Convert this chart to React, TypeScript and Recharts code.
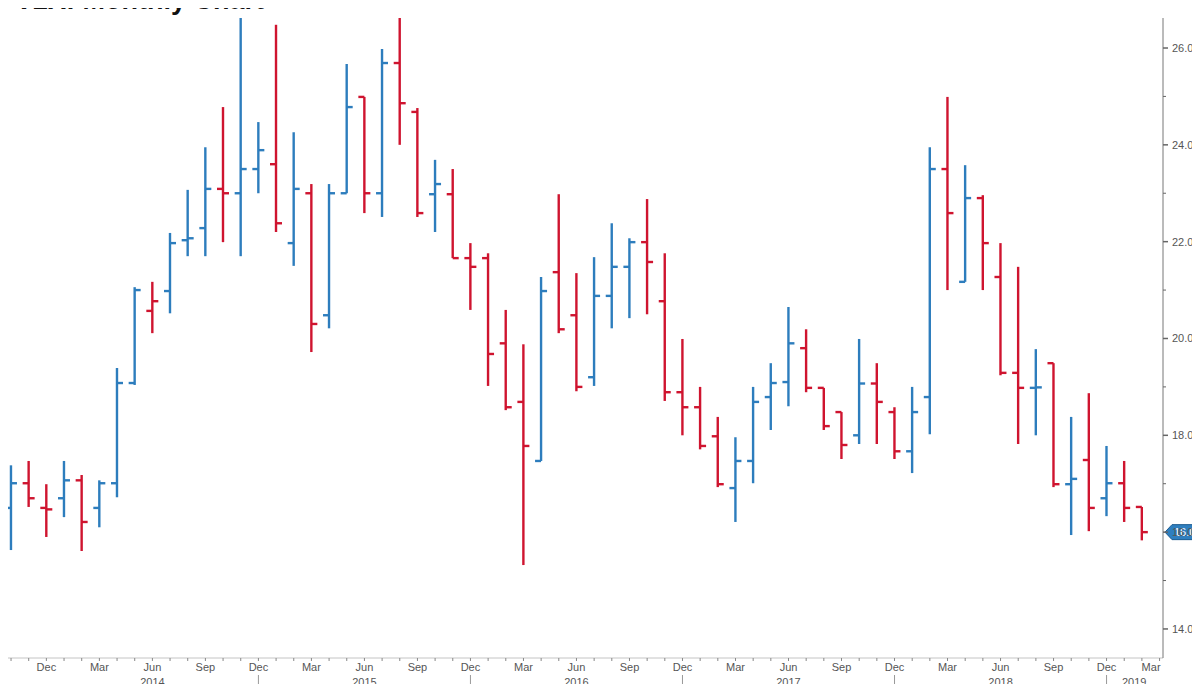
import React from 'react';
import { ComposedChart, Bar, XAxis, YAxis, ReferenceLine } from 'recharts';

// ---------- data ----------
const MONTH_NAMES = ['Jan', 'Feb', 'Mar', 'Apr', 'May', 'Jun', 'Jul', 'Aug', 'Sep', 'Oct', 'Nov', 'Dec'];
const START_YEAR = 2013;
const START_MONTH = 9; // Oct 2013
const CATEGORY_COUNT = 66; // Oct 2013 .. Mar 2019

const opens = [
  16.50, 17.01, 16.50, 16.70, 17.07, 16.50, 17.01, 19.08, 20.57, 20.98,
  22.03, 22.28, 23.09, 23.00, 23.50, 23.60, 21.97, 23.00, 20.48, 23.00,
  24.99, 23.00, 25.69, 24.68, 22.98, 22.98, 21.66, 21.66, 19.90, 18.69,
  17.47, 21.37, 20.48, 19.20, 20.88, 21.48, 21.99, 20.77, 18.89, 18.58,
  17.98, 16.91, 17.47, 18.79, 19.10, 19.80, 18.98, 18.48, 18.00, 19.07,
  18.48, 17.67, 18.79, 23.50, 21.17, 22.90, 21.27, 19.29, 18.98, 19.49,
  16.99, 17.49, 16.70, 17.01, 16.52,
];
const highs = [
  17.38, 17.47, 16.99, 17.47, 17.18, 17.07, 19.39, 21.06, 21.17, 22.18,
  23.07, 23.95, 24.78, 26.90, 24.47, 26.48, 24.26, 23.19, 23.19, 25.67,
  24.99, 25.98, 26.90, 24.76, 23.69, 23.50, 21.97, 21.76, 20.59, 19.88,
  21.27, 22.98, 21.35, 21.68, 22.38, 22.07, 22.88, 21.76, 19.99, 19.00,
  18.38, 17.96, 19.00, 19.49, 20.65, 20.19, 18.98, 18.48, 19.99, 19.49,
  18.58, 19.00, 23.95, 24.99, 23.58, 22.96, 21.97, 21.48, 19.78, 19.49,
  18.38, 18.87, 17.78, 17.47, 16.52,
];
const lows = [
  15.63, 16.52, 15.90, 16.31, 15.61, 16.10, 16.72, 19.04, 20.11, 20.52,
  21.70, 21.70, 21.99, 21.70, 23.00, 22.20, 21.50, 19.72, 20.21, 23.00,
  22.59, 22.51, 24.00, 22.51, 22.20, 21.66, 20.59, 19.02, 18.52, 15.32,
  17.47, 20.11, 18.91, 19.02, 20.21, 20.42, 20.50, 18.71, 18.00, 17.71,
  16.93, 16.21, 17.01, 18.11, 18.60, 18.89, 18.11, 17.51, 17.82, 17.82,
  17.51, 17.22, 18.02, 21.00, 21.17, 21.00, 19.24, 17.82, 18.00, 16.93,
  15.94, 16.02, 16.33, 16.21, 15.83,
];
const closes = [
  17.01, 16.70, 16.47, 17.07, 16.21, 17.01, 19.08, 21.00, 20.77, 21.97,
  22.07, 23.09, 23.00, 23.50, 23.89, 22.38, 23.09, 20.30, 23.00, 24.78,
  23.00, 25.69, 24.86, 22.59, 23.19, 21.66, 21.48, 19.68, 18.58, 17.78,
  20.98, 20.19, 19.00, 20.88, 21.48, 21.99, 21.58, 18.89, 18.58, 17.78,
  16.99, 17.47, 18.69, 19.08, 19.90, 18.98, 18.19, 17.80, 19.07, 18.69,
  17.67, 18.48, 23.50, 22.59, 22.90, 21.97, 19.29, 18.98, 18.99, 16.99,
  17.10, 16.50, 17.01, 16.50, 16.00,
];

const yTicks = [14, 15, 16, 17, 18, 19, 20, 21, 22, 23, 24, 25, 26];
const labeledMonths = ['Mar', 'Jun', 'Sep', 'Dec'];
const TITLE = 'V2X: Monthly Chart';

// ---------- build table ----------
type Row = {
  key: string;
  year: number;
  month: number;
  idx: number;
  range: [number, number] | null;
  open?: number;
  high?: number;
  low?: number;
  close?: number;
  up?: boolean;
};

const rows: Row[] = [];
for (let i = 0; i < CATEGORY_COUNT; i++) {
  const m = (START_MONTH + i) % 12;
  const y = START_YEAR + Math.floor((START_MONTH + i) / 12);
  const key = `${y}-${String(m + 1).padStart(2, '0')}`;
  if (i < opens.length) {
    const prev = i > 0 ? closes[i - 1] : opens[i];
    rows.push({
      key, year: y, month: m, idx: i,
      range: [lows[i], highs[i]],
      open: opens[i], high: highs[i], low: lows[i], close: closes[i],
      up: closes[i] >= prev,
    });
  } else {
    rows.push({ key, year: y, month: m, idx: i, range: null });
  }
}
const rowByKey: Record<string, Row> = {};
rows.forEach((r) => (rowByKey[r.key] = r));
const lastYear = rows[rows.length - 1].year;
const lastClose = closes[closes.length - 1];

const BLUE = '#2d7dbd';
const RED = '#cf142f';
const AXIS_TEXT = '#555555';
const FONT = '"Liberation Sans", Arial, sans-serif';

// ---------- shapes ----------
const OHLCShape = (props: any) => {
  const { x, y, width, height, payload } = props;
  if (!payload || payload.open == null) return null;
  const top = Math.min(y, y + height);
  const bot = Math.max(y, y + height);
  const cx = x + width / 2;
  const span = payload.high - payload.low;
  const py = (v: number) => top + ((payload.high - v) / span) * (bot - top);
  const color = payload.up ? BLUE : RED;
  const yo = py(payload.open);
  const yc = py(payload.close);
  return (
    <g>
      <line x1={cx} x2={cx} y1={top} y2={bot} stroke={color} strokeWidth={2.4} />
      <line x1={cx - 6} x2={cx} y1={yo} y2={yo} stroke={color} strokeWidth={2.4} />
      <line x1={cx} x2={cx + 6} y1={yc} y2={yc} stroke={color} strokeWidth={2.4} />
    </g>
  );
};

const MonthTick = (props: any) => {
  const { x, y, payload } = props;
  const r = rowByKey[payload.value];
  if (!r) return null;
  const name = MONTH_NAMES[r.month];
  const isLast = r.idx === rows.length - 1;
  const els: React.ReactNode[] = [];
  if (labeledMonths.includes(name)) {
    els.push(
      <text key="m" x={isLast ? x + 1 : x} y={y} dy={8} textAnchor={isLast ? 'end' : 'middle'}
        fontSize={11} fontFamily={FONT} fill={AXIS_TEXT}>{name}</text>
    );
  }
  if (name === 'Jun') {
    els.push(
      <text key="y" x={x} y={y} dy={23} textAnchor="middle" fontSize={11} fontFamily={FONT} fill={AXIS_TEXT}>{r.year}</text>
    );
  }
  if (r.year === lastYear && r.month === 0) {
    els.push(
      <text key="y" x={x + 10} y={y} dy={23} textAnchor="middle" fontSize={11} fontFamily={FONT} fill={AXIS_TEXT}>{r.year}</text>
    );
  }
  if (name === 'Dec' && r.year > START_YEAR) {
    els.push(<line key="s" x1={x} x2={x} y1={y + 12} y2={y + 30} stroke="#999" strokeWidth={1} />);
  }
  return <g>{els}</g>;
};

const PriceTick = (props: any) => {
  const { x, y, payload } = props;
  const major = payload.value % 2 === 0;
  return (
    <g>
      <line x1={x} x2={x + (major ? 5 : 3)} y1={y} y2={y} stroke="#666" strokeWidth={major ? 1.5 : 1} />
      {major && (
        <text x={x + 9} y={y} dy={4} fontSize={11} fontFamily={FONT} fill={AXIS_TEXT}>
          {payload.value.toFixed(2)}
        </text>
      )}
    </g>
  );
};

const LastPriceTag = (props: any) => {
  const vb = props.viewBox || {};
  const x0 = vb.x + vb.width + 2;
  const y0 = vb.y;
  const h = 15;
  const pts = `${x0},${y0} ${x0 + 7},${y0 - h / 2} ${x0 + 60},${y0 - h / 2} ${x0 + 60},${y0 + h / 2} ${x0 + 7},${y0 + h / 2}`;
  return (
    <g>
      <polygon points={pts} fill="#2f7fbf" stroke="#1d5d92" strokeWidth={1} />
      <text x={x0 + 9} y={y0} dy={4} fontSize={11} fontFamily={FONT} fill="#ffffff">
        {lastClose.toFixed(2)}
      </text>
    </g>
  );
};

export default function App() {
  return (
    <div style={{ position: 'relative', width: 1200, height: 684, margin: '-8px 0 0 -8px', background: '#fff', overflow: 'hidden' }}>
      <ComposedChart
        width={1200}
        height={684}
        data={rows}
        margin={{ top: 18, right: 0, bottom: 0, left: 0 }}
      >
        <XAxis
          dataKey="key"
          interval={0}
          height={26}
          padding={{ left: 2.2, right: -5.4 }}
          axisLine={{ stroke: '#c4c4c4' }}
          tickLine={{ stroke: '#888' }}
          tickSize={3}
          tickMargin={2}
          tick={<MonthTick />}
        />
        <YAxis
          orientation="right"
          width={37}
          domain={[13.4, 26.62]}
          allowDataOverflow
          ticks={yTicks}
          interval={0}
          axisLine={{ stroke: '#777' }}
          tickLine={false}
          tickSize={0}
          tickMargin={0}
          tick={<PriceTick />}
        />
        <ReferenceLine y={lastClose} stroke="none" ifOverflow="visible" label={<LastPriceTag />} />
        <Bar dataKey="range" shape={<OHLCShape />} isAnimationActive={false} />
      </ComposedChart>
      <svg style={{ position: 'absolute', left: 0, top: 0, zIndex: 2, display: 'block' }} width={400} height={24}>
        <text x={15} y={9} fontSize={27} fontWeight="bold" fontFamily={FONT} fill="#111">{TITLE}</text>
      </svg>
    </div>
  );
}
